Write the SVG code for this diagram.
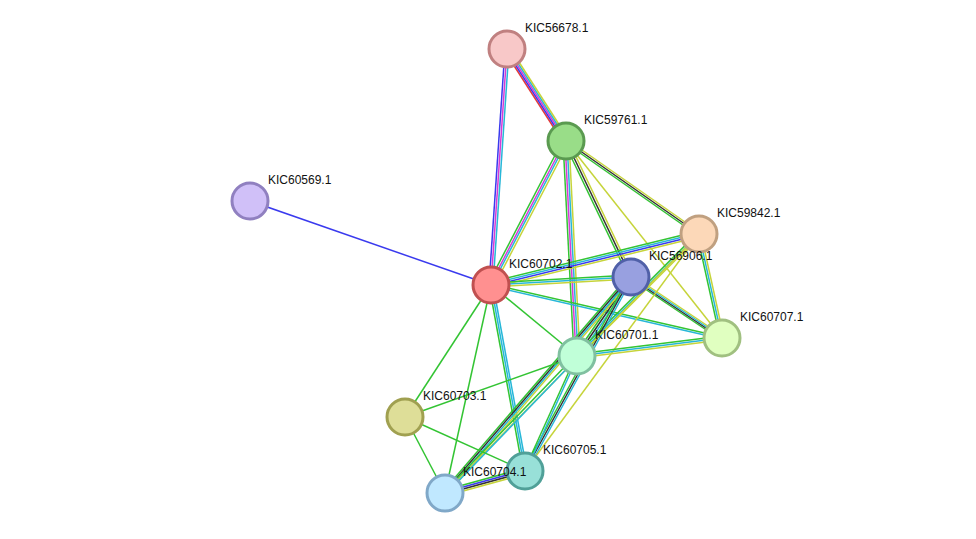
<svg xmlns="http://www.w3.org/2000/svg" width="976" height="539" viewBox="0 0 976 539">
<style>
line{stroke-width:1.5;fill:none}
.g{stroke:#33c433}.y{stroke:#c6d43a}.k{stroke:#333}.b{stroke:#3a3aee}.m{stroke:#d63ad6}.c{stroke:#27b7d8}.r{stroke:#e43a3a}
circle{stroke-width:3}
text{font-family:"Liberation Sans",Arial,sans-serif;font-size:12px;fill:#111}
</style>
<rect width="976" height="539" fill="#fff"/>
<g id="edges">
<g transform="translate(-2,0)"><line class="b" x1="507" y1="49" x2="491" y2="285"/></g>
<g><line class="m" x1="507" y1="49" x2="491" y2="285"/></g>
<g transform="translate(2,0)"><line class="c" x1="507" y1="49" x2="491" y2="285"/></g>
<g transform="translate(-3,1)"><line class="r" x1="507" y1="49" x2="566" y2="141"/></g>
<g transform="translate(-1.5,0.5)"><line class="b" x1="507" y1="49" x2="566" y2="141"/></g>
<g><line class="m" x1="507" y1="49" x2="566" y2="141"/></g>
<g transform="translate(1.5,-0.5)"><line class="c" x1="507" y1="49" x2="566" y2="141"/></g>
<g transform="translate(3,-1)"><line class="y" x1="507" y1="49" x2="566" y2="141"/></g>
<line class="b" x1="250" y1="201" x2="491" y2="285"/>
<g transform="translate(-3,-1)"><line class="g" x1="566" y1="141" x2="491" y2="285"/></g>
<g transform="translate(-1,0)"><line class="m" x1="566" y1="141" x2="491" y2="285"/></g>
<g transform="translate(1,0)"><line class="c" x1="566" y1="141" x2="491" y2="285"/></g>
<g transform="translate(3,1)"><line class="y" x1="566" y1="141" x2="491" y2="285"/></g>
<g transform="translate(-2,1)"><line class="g" x1="566" y1="141" x2="631" y2="277"/></g>
<g><line class="k" x1="566" y1="141" x2="631" y2="277"/></g>
<g transform="translate(2,-1)"><line class="y" x1="566" y1="141" x2="631" y2="277"/></g>
<g transform="translate(-1,1.5)"><line class="g" x1="566" y1="141" x2="699" y2="234"/></g>
<g><line class="k" x1="566" y1="141" x2="699" y2="234"/></g>
<g transform="translate(1,-1.5)"><line class="y" x1="566" y1="141" x2="699" y2="234"/></g>
<g transform="translate(-3,0)"><line class="g" x1="566" y1="141" x2="577" y2="356"/></g>
<g transform="translate(-1,0)"><line class="m" x1="566" y1="141" x2="577" y2="356"/></g>
<g transform="translate(1,0)"><line class="c" x1="566" y1="141" x2="577" y2="356"/></g>
<g transform="translate(3,0)"><line class="y" x1="566" y1="141" x2="577" y2="356"/></g>
<line class="y" x1="566" y1="141" x2="722" y2="338"/>
<g transform="translate(0,-3)"><line class="g" x1="491" y1="285" x2="699" y2="234"/></g>
<g transform="translate(0,-1)"><line class="c" x1="491" y1="285" x2="699" y2="234"/></g>
<g transform="translate(0,1)"><line class="b" x1="491" y1="285" x2="699" y2="234"/></g>
<g transform="translate(0,3)"><line class="y" x1="491" y1="285" x2="699" y2="234"/></g>
<g transform="translate(0,-2)"><line class="g" x1="491" y1="285" x2="631" y2="277"/></g>
<g><line class="c" x1="491" y1="285" x2="631" y2="277"/></g>
<g transform="translate(0,2)"><line class="y" x1="491" y1="285" x2="631" y2="277"/></g>
<g transform="translate(0,-1)"><line class="g" x1="491" y1="285" x2="722" y2="338"/></g>
<g transform="translate(0,1)"><line class="c" x1="491" y1="285" x2="722" y2="338"/></g>
<line class="g" x1="491" y1="285" x2="577" y2="356"/>
<line class="g" x1="491" y1="285" x2="405" y2="417"/>
<line class="g" x1="491" y1="285" x2="445" y2="493"/>
<g transform="translate(-2,0)"><line class="g" x1="491" y1="285" x2="525" y2="471"/></g>
<g><line class="c" x1="491" y1="285" x2="525" y2="471"/></g>
<g transform="translate(2,0)"><line class="c" x1="491" y1="285" x2="525" y2="471"/></g>
<g transform="translate(-1.5,1.5)"><line class="g" x1="631" y1="277" x2="722" y2="338"/></g>
<g transform="translate(-0.5,0.5)"><line class="k" x1="631" y1="277" x2="722" y2="338"/></g>
<g transform="translate(0.5,-0.5)"><line class="c" x1="631" y1="277" x2="722" y2="338"/></g>
<g transform="translate(1.5,-1.5)"><line class="y" x1="631" y1="277" x2="722" y2="338"/></g>
<g transform="translate(-2,0)"><line class="g" x1="699" y1="234" x2="722" y2="338"/></g>
<g><line class="c" x1="699" y1="234" x2="722" y2="338"/></g>
<g transform="translate(2,0)"><line class="y" x1="699" y1="234" x2="722" y2="338"/></g>
<g transform="translate(-1.5,-1.5)"><line class="g" x1="631" y1="277" x2="577" y2="356"/></g>
<g><line class="k" x1="631" y1="277" x2="577" y2="356"/></g>
<g transform="translate(1.5,1.5)"><line class="c" x1="631" y1="277" x2="577" y2="356"/></g>
<g transform="translate(-1,-1.5)"><line class="g" x1="699" y1="234" x2="577" y2="356"/></g>
<g><line class="c" x1="699" y1="234" x2="577" y2="356"/></g>
<g transform="translate(1,1.5)"><line class="y" x1="699" y1="234" x2="577" y2="356"/></g>
<g transform="translate(-2,-1.5)"><line class="g" x1="631" y1="277" x2="445" y2="493"/></g>
<g transform="translate(-0.7,-0.5)"><line class="k" x1="631" y1="277" x2="445" y2="493"/></g>
<g transform="translate(0.7,0.5)"><line class="c" x1="631" y1="277" x2="445" y2="493"/></g>
<g transform="translate(2,1.5)"><line class="y" x1="631" y1="277" x2="445" y2="493"/></g>
<g transform="translate(-1.5,-1)"><line class="g" x1="631" y1="277" x2="525" y2="471"/></g>
<g><line class="k" x1="631" y1="277" x2="525" y2="471"/></g>
<g transform="translate(1.5,1)"><line class="c" x1="631" y1="277" x2="525" y2="471"/></g>
<line class="y" x1="699" y1="234" x2="525" y2="471"/>
<line class="y" x1="699" y1="234" x2="445" y2="493"/>
<g transform="translate(0,-2)"><line class="g" x1="577" y1="356" x2="722" y2="338"/></g>
<g><line class="c" x1="577" y1="356" x2="722" y2="338"/></g>
<g transform="translate(0,2)"><line class="y" x1="577" y1="356" x2="722" y2="338"/></g>
<line class="g" x1="577" y1="356" x2="405" y2="417"/>
<g transform="translate(-1,-1)"><line class="g" x1="577" y1="356" x2="445" y2="493"/></g>
<g transform="translate(1,1)"><line class="c" x1="577" y1="356" x2="445" y2="493"/></g>
<g transform="translate(-1,0)"><line class="g" x1="577" y1="356" x2="525" y2="471"/></g>
<g transform="translate(1,0)"><line class="c" x1="577" y1="356" x2="525" y2="471"/></g>
<line class="g" x1="405" y1="417" x2="525" y2="471"/>
<line class="g" x1="405" y1="417" x2="445" y2="493"/>
<g transform="translate(0,-3)"><line class="g" x1="525" y1="471" x2="445" y2="493"/></g>
<g transform="translate(0,-1)"><line class="b" x1="525" y1="471" x2="445" y2="493"/></g>
<g transform="translate(0,1)"><line class="k" x1="525" y1="471" x2="445" y2="493"/></g>
<g transform="translate(0,3)"><line class="y" x1="525" y1="471" x2="445" y2="493"/></g>
</g>
<g id="n56678"><circle cx="507" cy="49" r="18" fill="#f8c8c8" stroke="#c08080"/><text x="525" y="32">KIC56678.1</text></g>
<g id="n59761"><circle cx="566" cy="141" r="18" fill="#99dd88" stroke="#5a9a50"/><text x="584" y="124">KIC59761.1</text></g>
<g id="n60569"><circle cx="250" cy="201" r="18" fill="#d0c0f8" stroke="#9080c0"/><text x="268" y="184">KIC60569.1</text></g>
<g id="n59842"><circle cx="699" cy="234" r="18" fill="#fcd8b8" stroke="#c0a080"/><text x="717" y="217">KIC59842.1</text></g>
<g id="n60702"><circle cx="491" cy="285" r="18" fill="#ff9090" stroke="#c05050"/><text x="509" y="268">KIC60702.1</text></g>
<g id="n56906"><circle cx="631" cy="277" r="18" fill="#98a0e0" stroke="#5060a8"/><text x="649" y="260">KIC56906.1</text></g>
<g id="n60707"><circle cx="722" cy="338" r="18" fill="#e0ffc0" stroke="#a0c080"/><text x="740" y="321">KIC60707.1</text></g>
<g id="n60701"><circle cx="577" cy="356" r="18" fill="#c0ffd8" stroke="#80c0a0"/><text x="595" y="339">KIC60701.1</text></g>
<g id="n60703"><circle cx="405" cy="417" r="18" fill="#dede98" stroke="#a0a050"/><text x="423" y="400">KIC60703.1</text></g>
<g id="n60705"><circle cx="525" cy="471" r="18" fill="#98e0d8" stroke="#50a098"/><text x="543" y="454">KIC60705.1</text></g>
<g id="n60704"><circle cx="445" cy="493" r="18" fill="#c0e8ff" stroke="#80a8c8"/><text x="463" y="476">KIC60704.1</text></g>
</svg>
